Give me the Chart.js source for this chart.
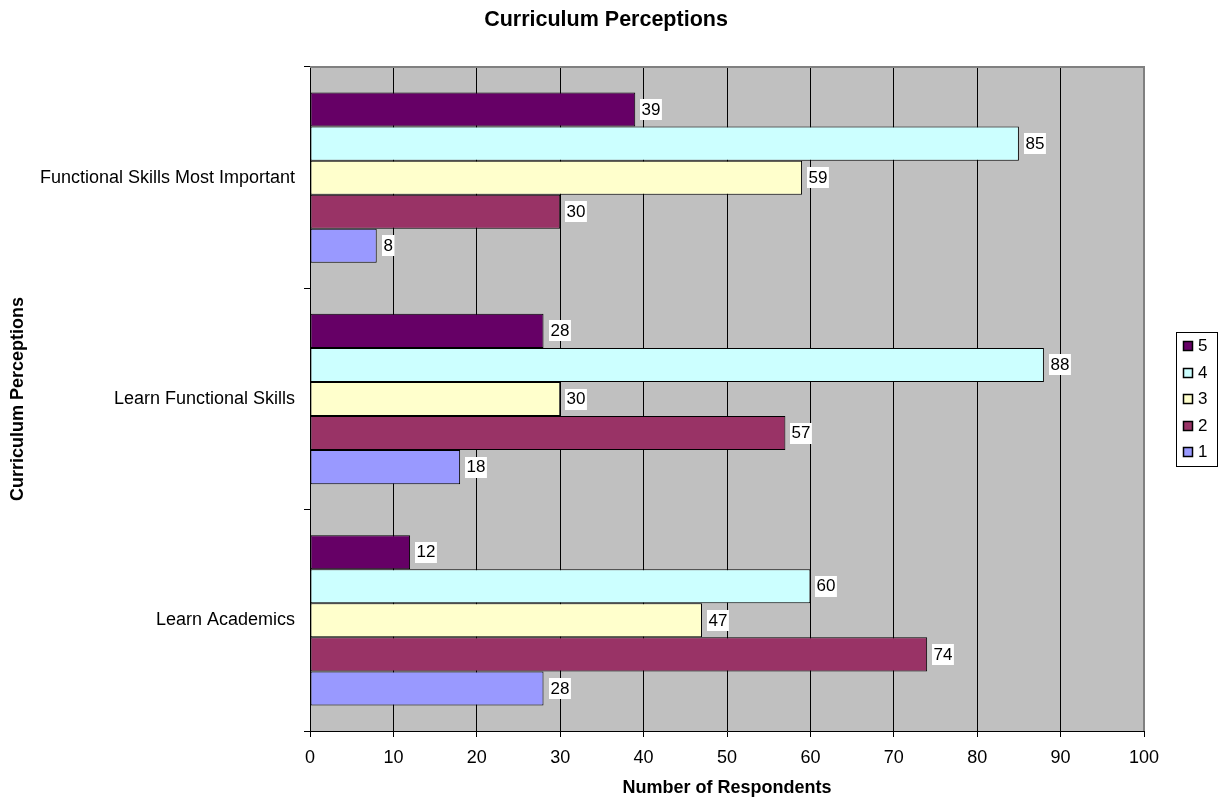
<!DOCTYPE html>
<html>
<head>
<meta charset="utf-8">
<script src="https://cdn.jsdelivr.net/npm/chart.js@4/dist/chart.umd.min.js"></script>
<style>
  html, body { margin: 0; padding: 0; background: #ffffff; }
  #wrap { width: 1219px; height: 803px; }
</style>
</head>
<body>
<div id="wrap"><canvas id="chart" width="1219" height="803"></canvas></div>
<script>
// Survey responses per statement, split by rating (5 = top bar in each group)
const categories = ['Functional Skills Most Important', 'Learn Functional Skills', 'Learn Academics'];
const seriesNames = ['5', '4', '3', '2', '1'];
const rating5 = [39, 28, 12];
const rating4 = [85, 88, 60];
const rating3 = [59, 30, 47];
const rating2 = [30, 57, 74];
const rating1 = [8, 18, 28];
const xTickValues = [0, 10, 20, 30, 40, 50, 60, 70, 80, 90, 100];

const chartTitle = 'Curriculum Perceptions';
const xAxisTitle = 'Number of Respondents';
const yAxisTitle = 'Curriculum Perceptions';

const seriesValues = [rating5, rating4, rating3, rating2, rating1];
const seriesColors = ['#660066', '#CCFFFF', '#FFFFCC', '#993366', '#9999FF'];

const FONT = "'Liberation Sans', Arial, Helvetica, sans-serif";

// Grey plot background plus the grey top/right frame
const plotFrame = {
  id: 'plotFrame',
  beforeDraw(chart) {
    const { ctx, chartArea: a } = chart;
    ctx.save();
    ctx.fillStyle = '#C0C0C0';
    ctx.fillRect(a.left, a.top, a.right - a.left, a.bottom - a.top);
    ctx.restore();
  },
  afterDatasetsDraw(chart) {
    const { ctx, chartArea: a } = chart;
    ctx.save();
    ctx.strokeStyle = '#808080';
    ctx.lineWidth = 2;
    ctx.beginPath();
    ctx.moveTo(a.left, a.top);
    ctx.lineTo(a.right, a.top);
    ctx.lineTo(a.right, a.bottom);
    ctx.stroke();
    ctx.restore();
  }
};

// Value labels on white boxes just past each bar end
const valueLabels = {
  id: 'valueLabels',
  afterDatasetsDraw(chart) {
    const { ctx } = chart;
    ctx.save();
    ctx.font = '17px ' + FONT;
    ctx.textBaseline = 'middle';
    ctx.textAlign = 'left';
    chart.data.datasets.forEach((ds, di) => {
      const meta = chart.getDatasetMeta(di);
      meta.data.forEach((bar, i) => {
        const text = String(ds.data[i]);
        const w = ctx.measureText(text).width;
        const bx = Math.round(bar.x) + 5;
        const by = Math.round(bar.y - 10.5);
        ctx.fillStyle = '#FFFFFF';
        ctx.fillRect(bx, by, w + 3, 21);
        ctx.fillStyle = '#000000';
        ctx.fillText(text, bx + 1.5, bar.y + 0.5);
      });
    });
    ctx.restore();
  }
};

// Chart heading
const heading = {
  id: 'heading',
  afterDraw(chart) {
    const { ctx } = chart;
    ctx.save();
    ctx.font = 'bold 21.5px ' + FONT;
    ctx.fillStyle = '#000000';
    ctx.textAlign = 'center';
    ctx.textBaseline = 'alphabetic';
    ctx.fillText(chartTitle, 606, 26);
    ctx.restore();
  }
};

// Boxed legend to the right of the plot
const sideLegend = {
  id: 'sideLegend',
  afterDraw(chart) {
    const { ctx, chartArea: a } = chart;
    const mid = (a.top + a.bottom) / 2;
    const step = 26.5;
    const n = chart.data.datasets.length;
    const left = a.right + 32;
    const top = Math.round(mid - 67);
    ctx.save();
    ctx.fillStyle = '#FFFFFF';
    ctx.fillRect(left, top, 41, 134);
    ctx.strokeStyle = '#000000';
    ctx.lineWidth = 1;
    ctx.strokeRect(left + 0.5, top + 0.5, 41, 134);
    ctx.font = '17px ' + FONT;
    ctx.textBaseline = 'middle';
    ctx.textAlign = 'left';
    chart.data.datasets.forEach((ds, i) => {
      const cy = Math.round(mid - step * (n - 1) / 2 + i * step);
      ctx.fillStyle = ds.backgroundColor;
      ctx.fillRect(left + 7, cy - 5, 10, 10);
      ctx.strokeStyle = '#000000';
      ctx.lineWidth = 1.5;
      ctx.strokeRect(left + 7.5, cy - 4.5, 9, 9);
      ctx.fillStyle = '#000000';
      ctx.fillText(ds.label, left + 22, cy + 0.5);
    });
    ctx.restore();
  }
};

const datasets = seriesNames.map((name, i) => ({
  label: name,
  data: seriesValues[i],
  backgroundColor: seriesColors[i],
  borderColor: '#000000',
  borderWidth: 1,
  borderSkipped: false,
  barPercentage: 1.0,
  categoryPercentage: 5 / 6.5
}));

new Chart(document.getElementById('chart'), {
  type: 'bar',
  data: { labels: categories, datasets },
  plugins: [plotFrame, valueLabels, heading, sideLegend],
  options: {
    indexAxis: 'y',
    responsive: false,
    animation: false,
    devicePixelRatio: 1,
    events: [],
    layout: { padding: { left: 0, top: 67, right: 75, bottom: 0 } },
    plugins: {
      legend: { display: false },
      title: { display: false },
      tooltip: { enabled: false }
    },
    scales: {
      x: {
        type: 'linear',
        position: 'bottom',
        min: 0,
        max: 100,
        afterBuildTicks: (scale) => { scale.ticks = xTickValues.map(v => ({ value: v })); },
        afterFit: (scale) => { scale.height = 72; },
        grid: {
          display: true,
          drawOnChartArea: true,
          drawTicks: true,
          tickLength: 6,
          color: (c) => (c.tick && c.tick.value === 100 ? '#808080' : '#000000'),
          tickColor: '#000000',
          lineWidth: 1
        },
        border: { display: true, color: '#000000', width: 1 },
        ticks: {
          color: '#000000',
          font: { family: FONT, size: 18 },
          padding: 10,
          maxRotation: 0,
          autoSkip: false
        },
        title: {
          display: true,
          text: xAxisTitle,
          color: '#000000',
          font: { family: FONT, size: 18, weight: 'bold' },
          padding: { top: 0, bottom: 4 }
        }
      },
      y: {
        type: 'category',
        position: 'left',
        afterFit: (scale) => { scale.width = 310; },
        grid: {
          display: true,
          offset: true,
          drawOnChartArea: false,
          drawTicks: true,
          tickLength: 6,
          color: '#000000',
          tickColor: '#000000'
        },
        border: { display: true, color: '#000000', width: 1 },
        ticks: {
          color: '#000000',
          font: { family: FONT, size: 18 },
          padding: 9,
          autoSkip: false
        },
        title: {
          display: true,
          text: yAxisTitle,
          color: '#000000',
          font: { family: FONT, size: 18, weight: 'bold' },
          padding: { top: 7.5, bottom: 0 }
        }
      }
    }
  }
});
</script>
</body>
</html>
